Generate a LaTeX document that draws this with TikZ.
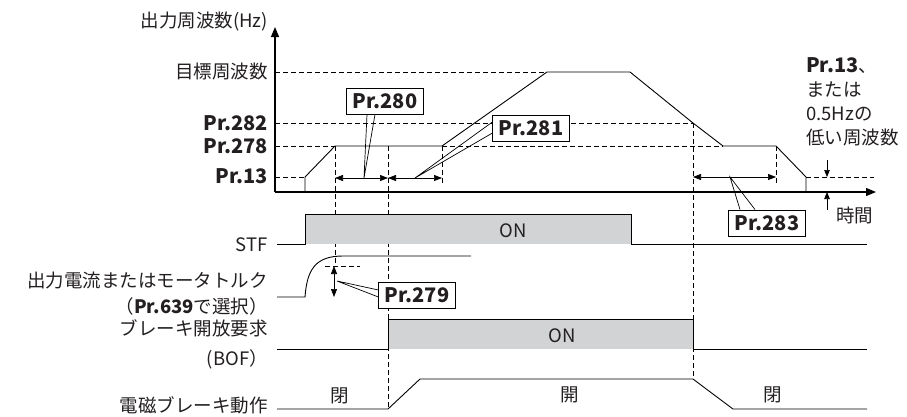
\documentclass[tikz,border=0pt]{standalone}
\usepackage{fontspec}
\setmainfont{Noto Sans CJK JP}
\usetikzlibrary{arrows.meta}
\definecolor{ongray}{RGB}{209,211,212}
\definecolor{ink}{RGB}{35,31,32}

\begin{document}
\begin{tikzpicture}[x=1pt,y=-1pt,
	wave/.style={ line width=0.9pt },
	axis/.style={ line width=1.2pt, -{Triangle[length=10pt,width=8pt]} },
	guide/.style={ line width=0.6pt, dash pattern=on 4.5pt off 3.5pt },
	span/.style={ line width=0.7pt, {Triangle[length=8pt,width=6pt]}-{Triangle[length=8pt,width=6pt]} },
	tick/.style={ line width=0.7pt, -{Triangle[length=7pt,width=5.5pt]} },
	prbox/.style={ draw, line width=0.7pt, fill=white, inner xsep=6pt, inner ysep=5.5pt, text=ink, font=\bfseries\fontsize{20}{20}\selectfont },
	lbl/.style={ anchor=east, inner sep=0pt, text=ink, font=\fontsize{18.5}{20}\selectfont },
	prlbl/.style={ anchor=east, inner sep=0pt, text=ink, font=\bfseries\fontsize{20}{20}\selectfont },
	txt/.style={ inner sep=0pt, text=ink, font=\fontsize{18.5}{20}\selectfont }
]
\useasboundingbox (0,0) rectangle (907,416);

% axes
\coordinate (o) at (275,192);
\coordinate (ytop) at (275,27);
\coordinate (xend) at (876,192);
\draw[axis] (o) -- (ytop);
\draw[axis] (o) -- (xend);

% axis labels
\node at (268,22) (hz) [lbl] {出力周波数(Hz)};
\node at (268,72) (target) [lbl] {目標周波数};
\node at (268,123) (l282) [prlbl] {Pr.282};
\node at (268,146) (l278) [prlbl] {Pr.278};
\node at (268,176) (l13) [prlbl] {Pr.13};
\node at (836,215) (time) [txt,anchor=west] {時間};

% output frequency
\coordinate (f0) at (305,192);
\coordinate (f1) at (305,177);
\coordinate (f2) at (335,146);
\coordinate (f3) at (442,146);
\coordinate (f4) at (547,72);
\coordinate (f5) at (630,72);
\coordinate (f6) at (693,123);
\coordinate (f7) at (723,146);
\coordinate (f8) at (776,146);
\coordinate (f9) at (806,177);
\coordinate (f10) at (806,192);
\draw[wave] (f0) -- (f1) -- (f2) -- (f3) -- (f4) -- (f5) -- (f6) -- (f7) -- (f8) -- (f9) -- (f10);

% level guides
\draw[guide] (275,72) -- (f4);
\draw[guide] (275,123) -- (f6);
\draw[guide] (275,146) -- (f2);
\draw[guide] (f3) -- (f7);
\draw[guide] (275,177) -- (f1);
\draw[guide] (f9) -- (874,177);

% time guides
\coordinate (c335) at (335,266);
\coordinate (c388) at (388,409);
\coordinate (c442) at (442,184);
\coordinate (c693) at (693,379);
\coordinate (c776) at (776,184);
\draw[guide] (f2) -- (c335);
\draw[guide] (388,146) -- (c388);
\draw[guide] (f3) -- (c442);
\draw[guide] (f6) -- (c693);
\draw[guide] (f8) -- (c776);

% spans
\coordinate (s1) at (335,178);
\coordinate (s2) at (388,178);
\coordinate (s3) at (442,178);
\coordinate (s4) at (693,177);
\coordinate (s5) at (776,177);
\draw[span] (s1) -- (s2);
\draw[span] (s2) -- (s3);
\draw[span] (s4) -- (s5);

% callouts
\node at (385,101) (p280) [prbox] {Pr.280};
\node at (531,128) (p281) [prbox] {Pr.281};
\node at (767,223) (p283) [prbox] {Pr.283};
\node at (417,295) (p279) [prbox] {Pr.279};
\coordinate (t280) at (364,178);
\coordinate (t281) at (415,178);
\coordinate (t283) at (730,177);
\coordinate (t279) at (337,281);
\draw[line width=0.7pt] ([xshift=-18pt]p280.south) -- (t280) -- ([xshift=-10pt]p280.south);
\draw[line width=0.7pt] ([yshift=6pt]p281.west) -- (t281) -- ([yshift=-5pt]p281.west);
\draw[line width=0.7pt] ([xshift=-27pt]p283.north) -- (t283) -- ([xshift=-12pt]p283.north);
\draw[line width=0.7pt] ([yshift=5pt]p279.west) -- (t279) -- ([yshift=-2pt]p279.west);

% low frequency note
\node at (806,57) (note) [txt,anchor=north west,align=left,font=\fontsize{18.5}{24}\selectfont] {\textbf{\fontsize{20}{24}\selectfont Pr.13}、\\または\\0.5Hzの\\低い周波数};
\coordinate (n1) at (827,160);
\coordinate (n2) at (827,177);
\coordinate (n3) at (827,210);
\coordinate (n4) at (827,192);
\draw[tick] (n1) -- (n2);
\draw[tick] (n3) -- (n4);

% STF
\fill[ongray] (305,214) rectangle (631,244);
\draw[wave] (277,244) -- (305,244) -- (305,214) -- (631,214) -- (631,244) -- (867,244);
\node at (513,231) (stfon) [txt] {ON};
\node at (268,245) (stf) [lbl] {STF};

% output current / torque
\coordinate (i0) at (277,297);
\coordinate (i1) at (305,297);
\coordinate (i2) at (343,256);
\coordinate (i3) at (471,256);
\draw[wave] (i0) -- (i1) .. controls (307,270) and (315,256) .. (i2) -- (i3);
\draw[guide] (325,266) -- (360,266);
\coordinate (a1) at (334,266);
\coordinate (a2) at (334,297);
\draw[span] (a1) -- (a2);
\node at (268,280) (cur) [lbl] {出力電流またはモータトルク};
\node at (268,306) (sel) [lbl] {（\textbf{Pr.639}で選択）};

% BOF
\fill[ongray] (388,319) rectangle (693,349);
\draw[wave] (277,349) -- (388,349) -- (388,319) -- (693,319) -- (693,349) -- (867,349);
\node at (562,336) (bofon) [txt] {ON};
\node at (268,328) (bof) [lbl] {ブレーキ開放要求};
\node at (268,359) (bofs) [lbl] {(BOF）};

% brake
\draw[wave] (277,409) -- (c388) -- (420,379) -- (c693) -- (733,409) -- (867,409);
\node at (340,396) (cl1) [txt] {閉};
\node at (570,395) (op) [txt] {開};
\node at (773,395) (cl2) [txt] {閉};
\node at (268,405) (brk) [lbl] {電磁ブレーキ動作};

\end{tikzpicture}
\end{document}
